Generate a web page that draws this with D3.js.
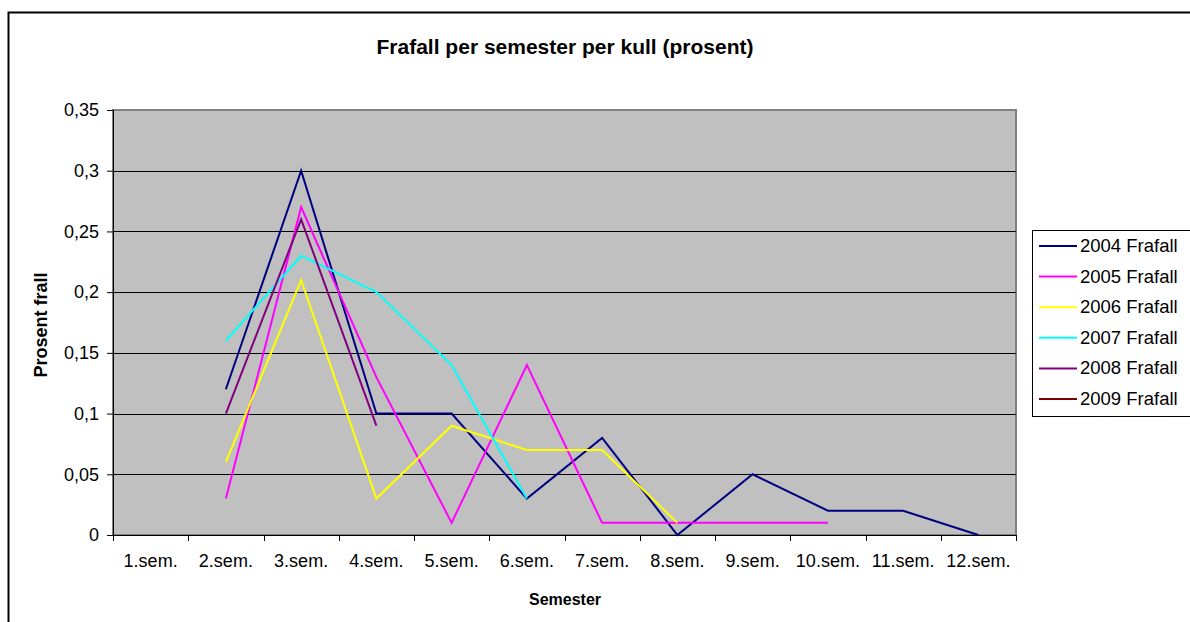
<!DOCTYPE html>
<html>
<head>
<meta charset="utf-8">
<script src="https://cdn.jsdelivr.net/npm/d3@7"></script>
<style>
  body { margin: 0; background: #fff; }
  text { font-family: "Liberation Sans", Arial, sans-serif; }
</style>
</head>
<body>
<script>
// categories along the x axis
const semesters = ['1.sem.', '2.sem.', '3.sem.', '4.sem.', '5.sem.', '6.sem.',
  '7.sem.', '8.sem.', '9.sem.', '10.sem.', '11.sem.', '12.sem.']

// dropout share per semester, null where the cohort has no value
const frafall2004 = [null, 0.12, 0.30, 0.10, 0.10, 0.03, 0.08, 0.00, 0.05, 0.02, 0.02, 0.00]
const frafall2005 = [null, 0.03, 0.27, 0.13, 0.01, 0.14, 0.01, 0.01, 0.01, 0.01, null, null]
const frafall2006 = [null, 0.06, 0.21, 0.03, 0.09, 0.07, 0.07, 0.01, null, null, null, null]
const frafall2007 = [null, 0.16, 0.23, 0.20, 0.14, 0.03, null, null, null, null, null, null]
const frafall2008 = [null, 0.10, 0.26, 0.09, null, null, null, null, null, null, null, null]
const frafall2009 = [null, null, null, null, null, null, null, null, null, null, null, null]

const seriesNames = ['2004 Frafall', '2005 Frafall', '2006 Frafall', '2007 Frafall', '2008 Frafall', '2009 Frafall']
const seriesValues = [frafall2004, frafall2005, frafall2006, frafall2007, frafall2008, frafall2009]
const colors = ['#000080', '#ff00ff', '#ffff00', '#00ffff', '#800080', '#800000']

const yTicks = [0, 0.05, 0.1, 0.15, 0.2, 0.25, 0.3, 0.35]

const W = 1190, H = 622
const plot = { left: 113, right: 1016, top: 110, bottom: 535 }
const fontSize = 18

const svg = d3.select('body').append('svg').attr('width', W).attr('height', H)

// outer chart border (only top and left fit in the picture)
svg.append('rect')
  .attr('x', 8.5).attr('y', 12.5)
  .attr('width', 1200).attr('height', 700)
  .attr('fill', '#fff').attr('stroke', '#000').attr('stroke-width', 2)

const x = d3.scaleBand().domain(semesters).range([plot.left, plot.right])
const y = d3.scaleLinear().domain([0, 0.35]).range([plot.bottom, plot.top])

// plot area
svg.append('rect')
  .attr('x', plot.left).attr('y', plot.top)
  .attr('width', plot.right - plot.left).attr('height', plot.bottom - plot.top)
  .attr('fill', '#c0c0c0').attr('stroke', '#808080').attr('stroke-width', 2)

// gridlines
svg.append('g').selectAll('line')
  .data(yTicks.filter(d => d > 0 && d < 0.35))
  .enter().append('line')
  .attr('x1', plot.left).attr('x2', plot.right)
  .attr('y1', d => Math.round(y(d)) + 0.5).attr('y2', d => Math.round(y(d)) + 0.5)
  .attr('stroke', '#000').attr('stroke-width', 1)

const fmt = d => String(+d.toFixed(2)).replace('.', ',')

// y axis
const yAxis = svg.append('g')
  .attr('transform', `translate(${plot.left},0)`)
  .call(d3.axisLeft(y).tickValues(yTicks).tickFormat(fmt).tickSize(6).tickPadding(8))
yAxis.select('.domain').attr('stroke', '#000')
yAxis.selectAll('line').attr('stroke', '#000')
yAxis.selectAll('text').attr('font-size', fontSize).attr('fill', '#000')
  .style('font-family', '"Liberation Sans", Arial, sans-serif')

// x axis: ticks on category boundaries, labels centred in the bands
const xAxis = svg.append('g').attr('transform', `translate(0,${plot.bottom})`)
xAxis.append('line')
  .attr('x1', plot.left).attr('x2', plot.right)
  .attr('y1', 0.5).attr('y2', 0.5).attr('stroke', '#000')
xAxis.selectAll('.tick')
  .data(semesters.concat(['end']))
  .enter().append('line')
  .attr('x1', (d, i) => Math.round(plot.left + i * x.bandwidth()) + 0.5)
  .attr('x2', (d, i) => Math.round(plot.left + i * x.bandwidth()) + 0.5)
  .attr('y1', 0).attr('y2', 6).attr('stroke', '#000')
xAxis.selectAll('.lbl')
  .data(semesters)
  .enter().append('text')
  .attr('x', d => x(d) + x.bandwidth() / 2)
  .attr('y', 32)
  .attr('text-anchor', 'middle')
  .attr('font-size', fontSize)
  .text(d => d)

// series lines
const line = d3.line()
  .defined(d => d != null)
  .x((d, i) => x(semesters[i]) + x.bandwidth() / 2)
  .y(d => y(d))

svg.append('g').selectAll('path')
  .data(seriesValues)
  .enter().append('path')
  .attr('d', line)
  .attr('fill', 'none')
  .attr('stroke', (d, i) => colors[i])
  .attr('stroke-width', 2)

// titles
svg.append('text')
  .attr('x', 565).attr('y', 54)
  .attr('text-anchor', 'middle')
  .attr('font-size', 21).attr('font-weight', 'bold')
  .text('Frafall per semester per kull (prosent)')

svg.append('text')
  .attr('x', 565).attr('y', 605)
  .attr('text-anchor', 'middle')
  .attr('font-size', 16).attr('font-weight', 'bold')
  .text('Semester')

svg.append('text')
  .attr('transform', 'translate(47,325) rotate(-90)')
  .attr('text-anchor', 'middle')
  .attr('font-size', fontSize).attr('font-weight', 'bold')
  .text('Prosent frall')

// legend
const legend = svg.append('g')
legend.append('rect')
  .attr('x', 1032.5).attr('y', 230.5)
  .attr('width', 200).attr('height', 186)
  .attr('fill', '#fff').attr('stroke', '#000')

const item = legend.selectAll('.item')
  .data(seriesNames)
  .enter().append('g')
  .attr('transform', (d, i) => `translate(0,${246 + i * 30.6})`)
item.append('line')
  .attr('x1', 1039).attr('x2', 1077)
  .attr('y1', 0).attr('y2', 0)
  .attr('stroke', (d, i) => colors[i]).attr('stroke-width', 2)
item.append('text')
  .attr('x', 1080).attr('y', 6)
  .attr('font-size', 18.5)
  .text(d => d)
</script>
</body>
</html>
